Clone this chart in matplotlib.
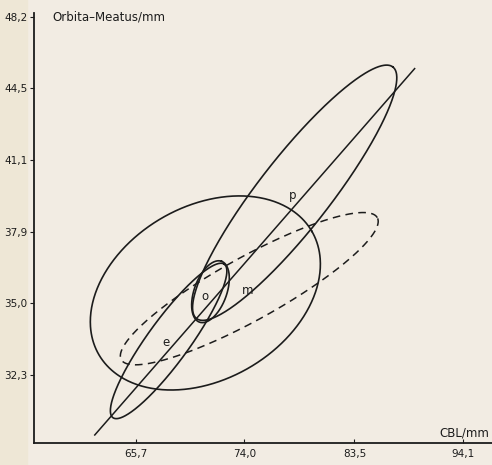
import numpy as np
import matplotlib
matplotlib.use('Agg')
import matplotlib.pyplot as plt
from matplotlib.patches import Rectangle

# axis ticks (log-log plot, values in mm)
xticks = [65.7, 74.0, 83.5, 94.1]
yticks = [32.3, 35.0, 37.9, 41.1, 44.5, 48.2]

# ellipses: centre (mm) and half axes in ln units, tilt in degrees
ell_name = ['big', 'long', 'o', 'e', 'dash']
ell_cx = [70.9, 78.2, 71.3, 68.1, 74.4]
ell_cy = [35.4, 39.6, 35.45, 33.55, 35.57]
ell_a = [0.135, 0.175, 0.0355, 0.104, 0.1606]
ell_b = [0.095, 0.039, 0.0178, 0.023, 0.0345]
ell_ang = [30, 52, 70, 54, 29]

# regression line end points
line_x = [62.8, 89.2]
line_y = [30.2, 45.5]

# group labels
lab_txt = ['p', 'm', 'o', 'e']
lab_x = [78.0, 74.3, 70.9, 67.9]
lab_y = [39.5, 35.5, 35.25, 33.5]

bg = '#f2ece3'
ink = '#1c1c1c'

def ellipse(cx, cy, a, b, ang):
    t = np.linspace(0, 2*np.pi, 500)
    u = a*np.cos(t)
    v = b*np.sin(t)
    r = np.deg2rad(ang)
    lx = np.log(cx) + u*np.cos(r) - v*np.sin(r)
    ly = np.log(cy) + (u*np.sin(r) + v*np.cos(r))*(912/894.)
    return np.exp(lx), np.exp(ly)

fig = plt.figure(figsize=(4.92, 4.65), dpi=100, facecolor=bg)
# slightly yellower scan margin on the left
fig.patches.append(Rectangle((0, 0), 27/492., 1, transform=fig.transFigure,
                             color='#eee7d6', zorder=-1))
ax = fig.add_axes([34/492., 22/465., 458/492., 430/465.])
ax.set_facecolor(bg)
ax.set_xscale('log')
ax.set_yscale('log')

for i in range(len(ell_name)):
    ex, ey = ellipse(ell_cx[i], ell_cy[i], ell_a[i], ell_b[i], ell_ang[i])
    if ell_name[i] == 'dash':
        ax.plot(ex, ey, color=ink, lw=1.1, ls=(0, (5, 3.5)))
    else:
        ax.plot(ex, ey, color=ink, lw=1.2)

ax.plot(line_x, line_y, color=ink, lw=1.1)

for t, x, y in zip(lab_txt, lab_x, lab_y):
    ax.text(x, y, t, fontsize=8.5, color=ink, ha='center', va='center')

ax.set_xlim(58.75, 97.1)
ax.set_ylim(29.93, 48.42)
ax.minorticks_off()
ax.set_xticks(xticks)
ax.set_xticklabels([('%.1f' % v).replace('.', ',') for v in xticks])
ax.set_yticks(yticks)
ax.set_yticklabels([('%.1f' % v).replace('.', ',') for v in yticks])
ax.tick_params(axis='x', direction='in', length=3, width=0.8, pad=4, labelsize=7.5, colors=ink)
ax.tick_params(axis='y', direction='out', length=3, width=0.8, pad=1.5, labelsize=7.5, colors=ink)
ax.spines['top'].set_visible(False)
ax.spines['right'].set_visible(False)
for s in ['left', 'bottom']:
    ax.spines[s].set_linewidth(1.3)
    ax.spines[s].set_color(ink)

fig.text(52/492., 1-17/465., 'Orbita\u2013Meatus/mm', fontsize=8.5, color=ink, va='center', ha='left')
fig.text(489/492., 1-433/465., 'CBL/mm', fontsize=8.5, color=ink, va='center', ha='right')

plt.savefig('out.png', dpi=100, facecolor=bg)
